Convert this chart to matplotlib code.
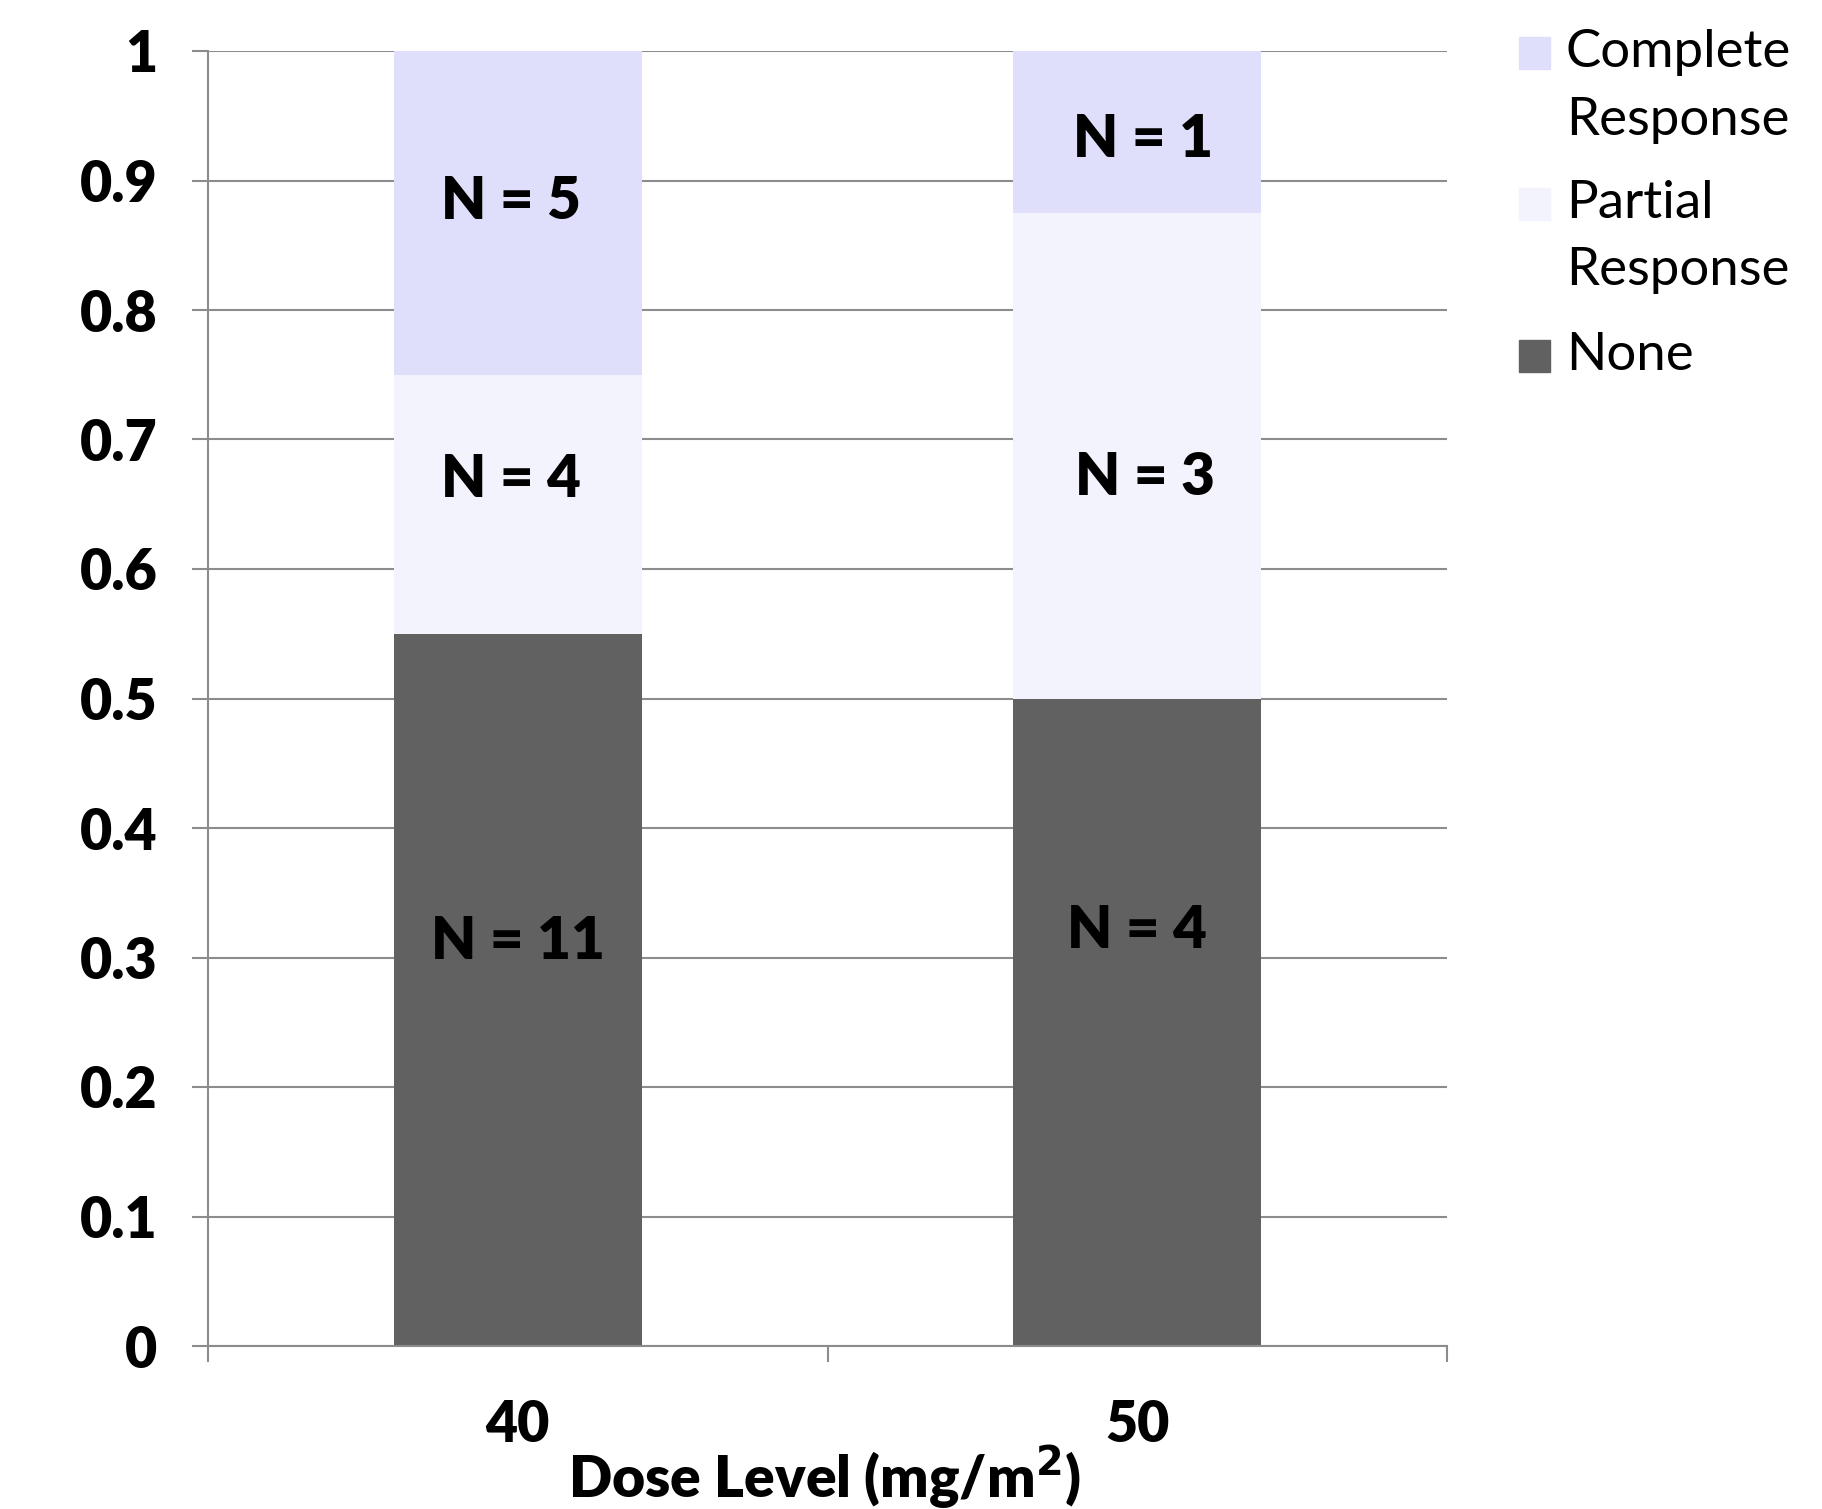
import numpy as np
import matplotlib.pyplot as plt
from matplotlib.patches import Rectangle

plt.rcParams['font.family'] = ['Lato', 'DejaVu Sans']

doses = ['40', '50']
none_frac = [0.55, 0.50]
partial_frac = [0.20, 0.375]
complete_frac = [0.25, 0.125]
none_n = [11, 4]
partial_n = [4, 3]
complete_n = [5, 1]

# where the N labels sit (axis units), as placed by hand in the original
label_pos = {
    'none': [(0.0, 0.312), (1.0, 0.321)],
    'partial': [(-0.011, 0.669), (1.013, 0.671)],
    'complete': [(-0.011, 0.884), (1.009, 0.932)],
}

W, H = 1822, 1509
fig = plt.figure(figsize=(W / 100, H / 100), dpi=100)
ax = fig.add_axes([208 / W, 1 - 1346 / H, 1239 / W, 1295 / H])

x = np.arange(len(doses))
w = 0.4
grid_c = '#8c8c8c'
colors = {'complete': '#dfdffc', 'partial': '#f3f3fd', 'none': '#616161'}

ax.bar(x, none_frac, w, color=colors['none'], zorder=2)
ax.bar(x, partial_frac, w, bottom=none_frac, color=colors['partial'], zorder=2)
bottom2 = np.array(none_frac) + np.array(partial_frac)
ax.bar(x, complete_frac, w, bottom=bottom2, color=colors['complete'], zorder=2)

counts = {'none': none_n, 'partial': partial_n, 'complete': complete_n}
for key, pos in label_pos.items():
    for (lx, ly), n in zip(pos, counts[key]):
        ax.text(lx, ly, f'N = {n}', ha='center', va='center', fontsize=42,
                fontweight='heavy', color='black', zorder=3)

ax.set_xlim(-0.5, 1.5)
ax.set_ylim(0, 1)
ax.set_yticks(np.arange(0, 1.01, 0.1))
ax.set_yticklabels(['0', '0.1', '0.2', '0.3', '0.4', '0.5', '0.6', '0.7', '0.8', '0.9', '1'],
                   fontsize=40, fontweight='heavy')
ax.yaxis.grid(True, color=grid_c, linewidth=1.5, zorder=0)
ax.tick_params(axis='y', length=11.5, width=1.5, color=grid_c, pad=25)

# ticks mark category boundaries, labels sit between them
ax.set_xticks([-0.5, 0.5, 1.5])
ax.set_xticklabels([])
ax.set_xticks(x, minor=True)
ax.set_xticklabels(doses, minor=True, fontsize=40, fontweight='heavy')
ax.tick_params(axis='x', which='major', length=11.5, width=1.5, color=grid_c)
ax.tick_params(axis='x', which='minor', length=0, pad=38)

for s in ('top', 'right'):
    ax.spines[s].set_visible(False)
for s in ('left', 'bottom'):
    ax.spines[s].set_color(grid_c)
    ax.spines[s].set_linewidth(1.5)

fig.text(824 / W, 1 - 1498 / H, 'Dose Level (mg/m$^{\\mathbf{2}}$)', ha='center',
         va='baseline', fontsize=41, fontweight='heavy')

# legend drawn by hand so the swatch lines up with the first text line
legend_items = [('complete', ['Complete', 'Response'], [67, 135], 37),
                ('partial', ['Partial', 'Response'], [218, 285], 188),
                ('none', ['None'], [370], 340)]
for key, lines, baselines, sq_top in legend_items:
    fig.patches.append(Rectangle((1519 / W, 1 - (sq_top + 32) / H), 31 / W, 32 / H,
                                 transform=fig.transFigure, color=colors[key]))
    for line, base in zip(lines, baselines):
        fig.text(1566 / W, 1 - base / H, line, ha='left', va='baseline', fontsize=38)

fig.savefig('out.png', dpi=100)
